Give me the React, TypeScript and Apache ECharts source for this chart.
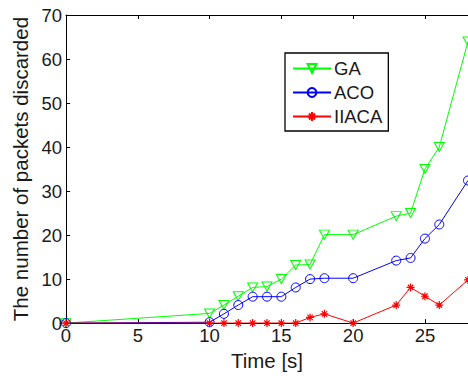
import React, { useEffect, useRef } from 'react';
import * as echarts from 'echarts';

const timeValues = [0, 10, 11, 12, 13, 14, 15, 16, 17, 18, 20, 23, 24, 25, 26, 28];
const gaValues = [0, 2.2, 4.1, 6.1, 8.1, 8.3, 10, 13.2, 13.3, 20.1, 20.1, 24.3, 25, 35, 40, 64];
const acoValues = [0, 0.2, 2.1, 4.1, 6, 6, 6, 8.1, 10, 10.2, 10.2, 14.2, 14.8, 19.2, 22.4, 32.4];
const iiacaValues = [0, 0, 0, 0, 0, 0, 0, 0, 1.3, 2.1, 0, 4.1, 8.1, 6.1, 4.1, 9.8];
const seriesNames = ['GA', 'ACO', 'IIACA'];
const xTicks = { min: 0, max: 28, interval: 5 };
const yTicks = { min: 0, max: 70, interval: 10 };

const FONT = "'Liberation Sans', Arial, Helvetica, sans-serif";
const TEXT = '#1a1a1a';
const STAR = 'path://M5 0L5 10M0 5L10 5M1.6 1.6L8.4 8.4M1.6 8.4L8.4 1.6';

export default function App() {
  const ref = useRef<HTMLDivElement>(null);
  useEffect(() => {
    const chart = echarts.init(ref.current!, null, { renderer: 'svg' });
    const pairs = (vals: number[]) => timeValues.map((t, i) => [t, vals[i]]);
    const axisLine = { show: true, lineStyle: { color: '#000', width: 1 } };
    const tick = { show: true, inside: true, length: 4, lineStyle: { color: '#000', width: 1 } };
    chart.setOption({
      animation: false,
      backgroundColor: '#fff',
      grid: { left: 66, top: 15, width: 406.5, bottom: 46, containLabel: false },
      legend: {
        data: seriesNames,
        orient: 'vertical',
        left: 285,
        top: 53,
        padding: [6, 6, 5, 7],
        itemGap: 5,
        itemWidth: 38,
        itemHeight: 11,
        backgroundColor: '#fff',
        borderColor: '#000',
        borderWidth: 1.3,
        borderRadius: 0,
        textStyle: { fontFamily: FONT, fontSize: 18.5, color: TEXT, padding: [0, 0, 0, -2] },
      },
      xAxis: [
        {
          type: 'value',
          min: xTicks.min,
          max: xTicks.max,
          interval: xTicks.interval,
          name: 'Time [s]',
          nameLocation: 'middle',
          nameGap: 21,
          nameTextStyle: { fontFamily: FONT, fontSize: 20.5, color: TEXT },
          axisLine,
          axisTick: tick,
          axisLabel: { fontFamily: FONT, fontSize: 18.5, color: TEXT, margin: 3, showMaxLabel: false },
          splitLine: { show: false },
        },
        {
          type: 'value',
          position: 'top',
          min: xTicks.min,
          max: xTicks.max,
          interval: xTicks.interval,
          axisLine,
          axisTick: tick,
          axisLabel: { show: false },
          splitLine: { show: false },
        },
      ],
      yAxis: [
        {
          type: 'value',
          min: yTicks.min,
          max: yTicks.max,
          interval: yTicks.interval,
          name: 'The number of packets discarded',
          nameLocation: 'middle',
          nameGap: 32,
          nameTextStyle: { fontFamily: FONT, fontSize: 20.5, color: TEXT },
          axisLine,
          axisTick: tick,
          axisLabel: { fontFamily: FONT, fontSize: 18.5, color: TEXT, margin: 4 },
          splitLine: { show: false },
        },
      ],
      series: [
        {
          name: 'GA',
          type: 'line',
          data: pairs(gaValues),
          symbol: 'triangle',
          symbolRotate: 180,
          symbolSize: [10, 9],
          lineStyle: { color: '#00ff00', width: 1 },
          itemStyle: { color: 'rgba(0,0,0,0)', borderColor: '#00ff00', borderWidth: 1 },
          z: 3,
        },
        {
          name: 'ACO',
          type: 'line',
          data: pairs(acoValues),
          symbol: 'circle',
          symbolSize: 9,
          lineStyle: { color: '#0000ff', width: 1 },
          itemStyle: { color: 'rgba(0,0,0,0)', borderColor: '#0000ff', borderWidth: 1 },
          z: 4,
        },
        {
          name: 'IIACA',
          type: 'line',
          data: pairs(iiacaValues),
          symbol: STAR,
          symbolSize: 8,
          lineStyle: { color: '#ff0000', width: 1 },
          itemStyle: { color: '#ff0000', borderColor: '#ff0000', borderWidth: 1.2 },
          z: 5,
        },
      ],
    });
    return () => chart.dispose();
  }, []);
  return (
    <div
      ref={ref}
      style={{ position: 'absolute', left: 0, top: 0, width: 468, height: 376, background: '#fff' }}
    />
  );
}
